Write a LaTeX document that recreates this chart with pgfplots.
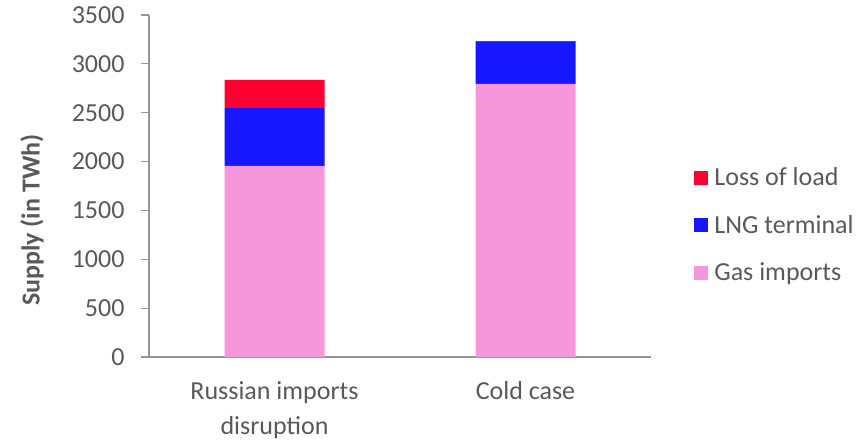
\documentclass[border=0pt]{standalone}
\usepackage{pgfplots}
\pgfplotsset{compat=1.18}
\usepackage{fontspec}
\setmainfont{Carlito}
\definecolor{lossred}{RGB}{255,0,51}
\definecolor{lngblue}{RGB}{22,22,255}
\definecolor{gaspink}{RGB}{247,151,219}
\definecolor{txtgray}{RGB}{89,89,89}
\definecolor{axgray}{RGB}{150,150,150}
\pgfplotsset{sqlegend/.style={legend image code/.code={\fill[##1,draw=none] (0pt,-7pt) rectangle (14pt,7pt);}}}
\begin{document}
\begin{tikzpicture}[x=1pt,y=1pt]
\useasboundingbox (0,0) rectangle (866,445);
\begin{axis}[
  at={(149pt,88pt)}, anchor=south west,
  scale only axis, width=502pt, height=342pt,
  ybar stacked, bar width=100pt,
  xmin=-0.5, xmax=1.5, ymin=0, ymax=3500,
  axis lines*=left,
  axis line style={axgray, line width=1.2pt},
  ytick={0,500,...,3500},
  xtick={0,1},
  xticklabels={{Russian imports\\disruption},{Cold case}},
  x tick style={draw=none},
  y tick style={axgray, line width=1.2pt},
  tick align=outside,
  major tick length=8pt,
  extra x ticks={-0.5,0.5,1.5},
  extra x tick labels={},
  extra x tick style={major tick length=8pt, tick style={axgray, line width=1.2pt}},
  /pgf/number format/assume math mode=true,
  /pgf/number format/1000 sep={},
  yticklabel style={font=\fontsize{26}{31}\selectfont, text=txtgray, xshift=-13pt},
  xticklabel style={align=center, font=\fontsize{26}{35}\selectfont, text=txtgray, yshift=-13pt},
  ylabel={Supply (in TWh)},
  ylabel style={font=\fontsize{26}{31}\selectfont\bfseries, text=txtgray, at={(axis description cs:-0.233,0.40)}, anchor=center},
  reverse legend,
  legend style={draw=none, fill=none, at={(axis description cs:1.086,0.386)}, anchor=west,
     font=\fontsize{26}{31}\selectfont, text=txtgray, row sep=24pt, inner sep=0pt,
     nodes={inner xsep=6pt, inner ysep=2pt}},
  legend cell align=left,
]
\addplot[fill=gaspink, draw=none, sqlegend] coordinates {(0,1957) (1,2795)};
\addplot[fill=lngblue, draw=none, sqlegend] coordinates {(0,591) (1,427)};
\addplot[fill=lossred, draw=none, sqlegend] coordinates {(0,288) (1,10)};
\legend{Gas imports, LNG terminal, Loss of load}
\end{axis}
\end{tikzpicture}
\end{document}
